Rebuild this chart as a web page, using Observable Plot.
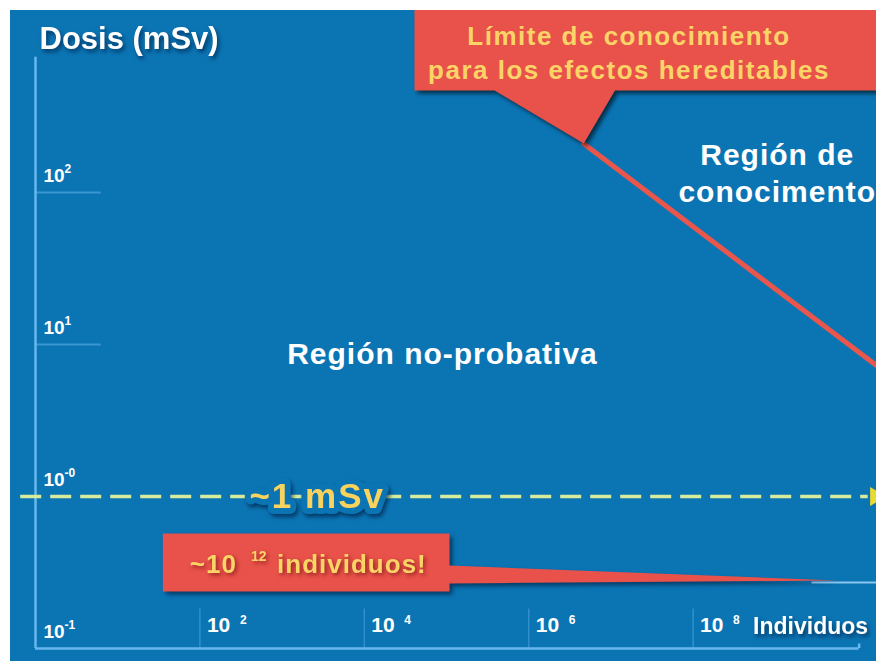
<!DOCTYPE html>
<html>
<head>
<meta charset="utf-8">
<script src="https://cdn.jsdelivr.net/npm/d3@7"></script>
<script src="https://cdn.jsdelivr.net/npm/@observablehq/plot@0.6"></script>
<style>
  html, body { margin: 0; padding: 0; background: #ffffff; }
  #chart { position: absolute; left: 10px; top: 10px; width: 866px; height: 651px; background: #0b75b4; overflow: hidden; }
  #chart svg { display: block; font-family: "Liberation Sans", Arial, sans-serif; font-weight: bold; }
</style>
</head>
<body>
<div id="chart"></div>
<script>
// ---- Axis values (log10 of individuals / log10 of dose in mSv) ----
const xTickLog = [2, 4, 6, 8];
const yTickLog = [-1, 0, 1, 2];
const yTickSup = ["-1", "-0", "1", "2"];
const yGridLog = [1, 2];
const xTitle = "Individuos";
const yTitle = "Dosis (mSv)";

// ---- Knowledge limit for hereditable effects (red line) ----
const limitLogN = [6.67, 10.26];
const limitLogDose = [2.32, 0.85];

// ---- ~1 mSv reference ----
const refDose = 1;
const refLabel = "~1 mSv";
const refLogNRange = [-0.18, 10.13];
const refArrowLogN = 10.22;

// ---- Axis extents ----
const axisLogNRange = [0, 10.02];
const axisLogDoseRange = [-1, 2.89];
const xTickTopLogDose = -0.74;
const yGridEndLogN = 0.8;

// ---- Callouts (anchors in log10 data space) ----
const topCalloutLogN = [4.61, 10.4, 10.4, 7.05, 6.67, 5.585, 4.61];
const topCalloutLogDose = [3.25, 3.25, 2.671, 2.671, 2.322, 2.671, 2.671];
const topCalloutText = "Límite de conocimiento\npara los efectos hereditables";
const topCalloutTextPos = [7.22, 2.928];

const bottomCalloutLogN = [1.549, 5.037, 5.037, 9.756, 5.037, 5.037, 1.549];
const bottomCalloutLogDose = [-0.243, -0.243, -0.454, -0.553, -0.572, -0.625, -0.625];
const bottomTailLogN = [9.45, 10.35];
const bottomTailLogDose = -0.566;
const bottomTextParts = ["~10", "12", "individuos!"];
const bottomTextLogN = [1.878, 2.622, 2.939];
const bottomTextLogDose = [-0.447, -0.395, -0.447];

// ---- Region labels ----
const regionLabels = ["Región no-probativa", "Región de\nconocimento"];
const regionLogN = [4.951, 9.024];
const regionLogDose = [0.947, 2.135];
const refLabelLogN = 3.427;
const titleLogDose = 3.01;

const p10 = e => Math.pow(10, e);
const pts = (xs, ys) => xs.map((x, i) => ({x: p10(x), y: p10(ys[i])}));

const axisColor = "#68b8ee";
const redFill = "#e9524a";
const yellowText = "#fbd468";
const shadow = "drop-shadow(2px 3px 2px rgba(0,25,60,0.65))";

const limitLine = pts(limitLogN, limitLogDose);
const topCallout = pts(topCalloutLogN, topCalloutLogDose);
const bottomCallout = pts(bottomCalloutLogN, bottomCalloutLogDose);
const bottomTail = pts(bottomTailLogN, bottomTailLogN.map(() => bottomTailLogDose));

const svg = Plot.plot({
  width: 866,
  height: 651,
  marginLeft: 25,
  marginRight: 19,
  marginTop: 30,
  marginBottom: 13,
  style: {background: "transparent", color: "white", fontFamily: "'Liberation Sans', Arial, sans-serif"},
  x: {type: "log", domain: [1, 1e10], axis: null},
  y: {type: "log", domain: [0.1, 1000], axis: null},
  marks: [
    // faint tick lines
    Plot.ruleY(yGridLog, {y: d => p10(d), x1: () => 1, x2: () => p10(yGridEndLogN), stroke: "#5aaee6", strokeWidth: 2, strokeOpacity: 0.6}),
    Plot.ruleX(xTickLog, {x: d => p10(d), y1: () => 0.1, y2: () => p10(xTickTopLogDose), stroke: "#4aa2dc", strokeWidth: 1.5, strokeOpacity: 0.6}),
    // axes
    Plot.ruleX([0], {x: () => 1, y1: () => p10(axisLogDoseRange[0]), y2: () => p10(axisLogDoseRange[1]), stroke: axisColor, strokeWidth: 2.5}),
    Plot.ruleY([0], {y: () => 0.1, x1: () => 1, x2: () => p10(axisLogNRange[1]), stroke: axisColor, strokeWidth: 2.5}),
    Plot.ruleX([0], {x: () => p10(axisLogNRange[1]), y1: () => 0.1, y2: () => p10(-0.97), stroke: axisColor, strokeWidth: 2.5}),
    // ~1 mSv dashed reference
    Plot.ruleY([refDose], {x1: () => p10(refLogNRange[0]), x2: () => p10(refLogNRange[1]), stroke: "#d6eb9c", strokeWidth: 3.5, strokeDasharray: "21,9"}),
    Plot.dot([refDose], {x: () => p10(refArrowLogN), y: d => d, symbol: "triangle", rotate: 90, r: 7, fill: "#ecd930", stroke: "none"}),
    // limit line
    Plot.line(limitLine, {x: "x", y: "y", stroke: "#e8564c", strokeWidth: 5}),
    // callouts
    Plot.line(bottomTail, {x: "x", y: "y", stroke: "#8cc6ee", strokeWidth: 2}),
    Plot.line(topCallout, {x: "x", y: "y", fill: redFill, stroke: "none", imageFilter: "drop-shadow(3px 3px 2px rgba(0,0,0,0.6))"}),
    Plot.line(bottomCallout, {x: "x", y: "y", fill: redFill, stroke: "none", imageFilter: "drop-shadow(3px 3px 2px rgba(0,20,50,0.6))"}),
    Plot.text([topCalloutText], {x: () => p10(topCalloutTextPos[0]), y: () => p10(topCalloutTextPos[1]), text: d => d, fill: yellowText, fontSize: 26, fontWeight: "bold", lineHeight: 1.31, textAnchor: "middle", lineAnchor: "middle"}),
    Plot.text(bottomTextParts, {x: (d, i) => p10(bottomTextLogN[i]), y: (d, i) => p10(bottomTextLogDose[i]), text: d => d, fill: yellowText, fontSize: (d, i) => i === 1 ? 14 : 26, fontWeight: "bold", textAnchor: "start", lineAnchor: "middle", imageFilter: "drop-shadow(2px 2px 2px rgba(90,0,0,0.6))"}),
    // region labels
    Plot.text(regionLabels, {x: (d, i) => p10(regionLogN[i]), y: (d, i) => p10(regionLogDose[i]), text: d => d, fill: "white", fontSize: 30, fontWeight: "bold", lineHeight: 1.233, textAnchor: "middle", lineAnchor: "middle"}),
    // ~1 mSv label
    Plot.text([refLabel], {x: () => p10(refLabelLogN), y: () => refDose, text: d => d, fill: "#f9d35e", fontSize: 35, fontWeight: "bold", textAnchor: "middle", lineAnchor: "middle", stroke: "#0b75b4", strokeWidth: 12, paintOrder: "stroke", imageFilter: shadow}),
    // y tick labels
    Plot.text(yTickLog, {x: () => 1, y: d => p10(d), text: () => "10", dx: 8, dy: -17, fill: "white", fontSize: 19, fontWeight: "bold", textAnchor: "start", lineAnchor: "middle"}),
    Plot.text(yTickLog, {x: () => 1, y: d => p10(d), text: (d, i) => yTickSup[i], dx: 29, dy: -23, fill: "white", fontSize: 12, fontWeight: "bold", textAnchor: "start", lineAnchor: "middle"}),
    // x tick labels
    Plot.text(xTickLog, {x: d => p10(d), y: () => 0.1, text: () => "10", dx: 7, dy: -23, fill: "white", fontSize: 21, fontWeight: "bold", textAnchor: "start", lineAnchor: "middle"}),
    Plot.text(xTickLog, {x: d => p10(d), y: () => 0.1, text: d => String(d), dx: 40, dy: -28, fill: "white", fontSize: 12, fontWeight: "bold", textAnchor: "start", lineAnchor: "middle"}),
    // axis titles
    Plot.text([xTitle], {x: () => p10(xTickLog[3]), y: () => 0.1, text: d => d, dx: 60, dy: -22, fill: "white", fontSize: 23, fontWeight: "bold", textAnchor: "start", lineAnchor: "middle", imageFilter: shadow}),
    Plot.text([yTitle], {x: () => 1, y: () => p10(titleLogDose), text: d => d, dx: 4, fill: "white", fontSize: 31, fontWeight: "bold", textAnchor: "start", lineAnchor: "middle", imageFilter: shadow})
  ]
});

svg.querySelectorAll("text").forEach(t => {
  const s = t.textContent;
  if (s.startsWith("Límite")) t.style.letterSpacing = "1.5px";
  if (s === "individuos!" || s === "~10") t.style.letterSpacing = "1px";
  if (s === refLabel) t.style.letterSpacing = "2px";
  if (s.startsWith("Región")) t.style.letterSpacing = "1px";
});

document.getElementById("chart").appendChild(svg);
</script>
</body>
</html>
